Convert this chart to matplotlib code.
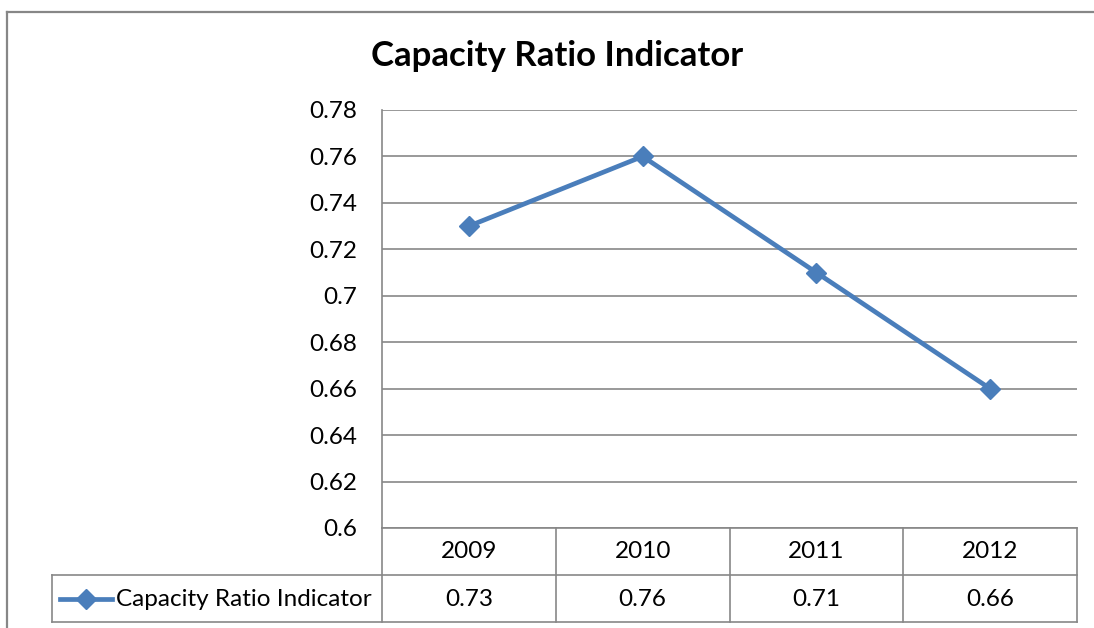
import matplotlib
matplotlib.use("Agg")
import matplotlib.pyplot as plt
from matplotlib.lines import Line2D

years = ["2009", "2010", "2011", "2012"]
capacityRatio = [0.73, 0.76, 0.71, 0.66]
valueLabels = ["0.73", "0.76", "0.71", "0.66"]
yTicks = [0.6, 0.62, 0.64, 0.66, 0.68, 0.7, 0.72, 0.74, 0.76, 0.78]
yTickLabels = ["0.6", "0.62", "0.64", "0.66", "0.68", "0.7", "0.72", "0.74", "0.76", "0.78"]
seriesName = "Capacity Ratio Indicator"
chartTitle = "Capacity Ratio Indicator"

lineColor = "#4A7EBB"
gridColor = "#878787"
textSize = 17.5

plt.rcParams["font.family"] = ["Lato", "DejaVu Sans"]

fig = plt.figure(figsize=(10.94, 6.28), dpi=100)
ax = fig.add_axes([382 / 1094, 1 - 528 / 628, 695 / 1094, 418 / 628])

xPositions = list(range(len(years)))
ax.plot(xPositions, capacityRatio, color=lineColor, linewidth=3.4, marker="D",
        markersize=10, markerfacecolor=lineColor, markeredgecolor=lineColor, zorder=3)

ax.set_xlim(-0.5, len(years) - 0.5)
ax.set_ylim(0.6, 0.78)
ax.set_yticks(yTicks)
ax.set_yticklabels(yTickLabels, fontsize=textSize)
ax.tick_params(axis="y", length=0, pad=18)
ax.set_xticks([])
ax.grid(axis="y", color=gridColor, linewidth=1.2)
for side in ["top", "right", "bottom"]:
    ax.spines[side].set_visible(False)
ax.spines["left"].set_color(gridColor)
ax.spines["left"].set_linewidth(1.2)

fig.text(557 / 1094, 1 - 56 / 628, chartTitle, ha="center", va="center",
         fontsize=25, fontweight="bold")

# data table below the axis
rowOne = -47 / 418
rowTwo = -94 / 418
legendLeft = (52 - 382) / 695
tableLines = [
    ([0, 0], [0, rowTwo]),
    ([1, 1], [0, rowTwo]),
    ([0, 1], [0, 0]),
    ([legendLeft, 1], [rowOne, rowOne]),
    ([legendLeft, 1], [rowTwo, rowTwo]),
    ([legendLeft, legendLeft], [rowOne, rowTwo]),
]
for k in range(1, len(years)):
    tableLines.append(([k / len(years), k / len(years)], [0, rowTwo]))
for xs, ys in tableLines:
    ax.plot(xs, ys, transform=ax.transAxes, color=gridColor, linewidth=1.2, clip_on=False)

blended = ax.get_xaxis_transform()
for xPos, year, label in zip(xPositions, years, valueLabels):
    ax.text(xPos, -24 / 418, year, transform=blended, ha="center", va="center", fontsize=textSize)
    ax.text(xPos, -71 / 418, label, transform=blended, ha="center", va="center", fontsize=textSize)

keyY = -71 / 418
ax.plot([(60 - 382) / 695, (112 - 382) / 695], [keyY, keyY], transform=ax.transAxes,
        color=lineColor, linewidth=3.4, clip_on=False)
ax.plot([(86 - 382) / 695], [keyY], transform=ax.transAxes, marker="D", markersize=10,
        color=lineColor, clip_on=False)
ax.text((116 - 382) / 695, keyY, seriesName, transform=ax.transAxes, ha="left",
        va="center", fontsize=textSize)

# outer chart border (cut off at right and bottom)
fig.add_artist(Line2D([7 / 1094, 7 / 1094], [0, 1 - 12 / 628], color=gridColor, linewidth=1.6))
fig.add_artist(Line2D([7 / 1094, 1], [1 - 12 / 628, 1 - 12 / 628], color=gridColor, linewidth=1.6))

fig.savefig("out.png", dpi=100)
